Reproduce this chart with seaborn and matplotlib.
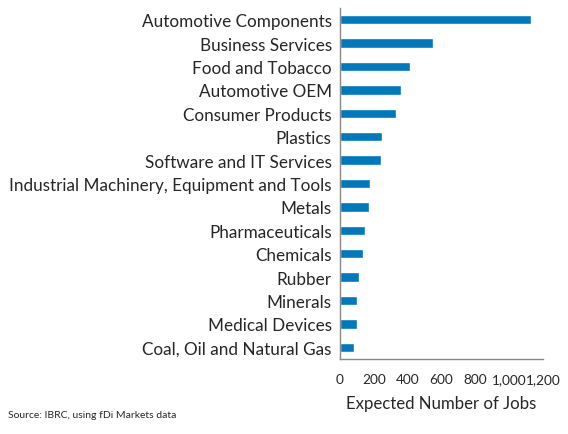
import matplotlib
matplotlib.use("Agg")
import matplotlib.pyplot as plt
import numpy as np
import pandas as pd
import seaborn as sns

industries = [
    "Automotive Components",
    "Business Services",
    "Food and Tobacco",
    "Automotive OEM",
    "Consumer Products",
    "Plastics",
    "Software and IT Services",
    "Industrial Machinery, Equipment and Tools",
    "Metals",
    "Pharmaceuticals",
    "Chemicals",
    "Rubber",
    "Minerals",
    "Medical Devices",
    "Coal, Oil and Natural Gas",
]
jobs = [1129, 552, 416, 361, 329, 246, 240, 177, 173, 148, 136, 112, 100, 100, 81]
x_ticks = [0, 200, 400, 600, 800, 1000, 1200]

df = pd.DataFrame({"industry": industries, "jobs": jobs})

sns.set_style("white")
plt.rcParams["font.family"] = ["Lato", "DejaVu Sans"]

fig = plt.figure(figsize=(5.68, 4.35), dpi=100)
ax = fig.add_axes([340 / 568, 75 / 435, 203 / 568, 351 / 435])

sns.barplot(data=df, x="jobs", y="industry", color="#0078BA",
            width=0.4, saturation=1, ax=ax)

ax.set_xlim(0, 1200)
ax.set_ylim(len(industries) - 0.5, -0.5)
ax.set_xticks(x_ticks)
ax.set_xticklabels([f"{v:,}" for v in x_ticks], fontsize=9.8)
ax.set_xlabel("Expected Number of Jobs", fontsize=12.1, labelpad=7)
ax.set_ylabel("")
ax.tick_params(axis="y", which="major", length=0, labelsize=12.3, pad=6)
ax.set_yticks(np.arange(len(industries) + 1) - 0.5, minor=True)
ax.tick_params(axis="y", which="minor", length=4, color="#888888", width=1)
ax.tick_params(axis="x", length=4, color="#888888", width=1, pad=6)

for s in ["top", "right"]:
    ax.spines[s].set_visible(False)
for s in ["left", "bottom"]:
    ax.spines[s].set_color("#888888")
    ax.spines[s].set_linewidth(1)

fig.text(8 / 568, 1 - 416 / 435, "Source: IBRC, using fDi Markets data",
         fontsize=7.5, va="center", ha="left")

fig.savefig("out.png", dpi=100)
